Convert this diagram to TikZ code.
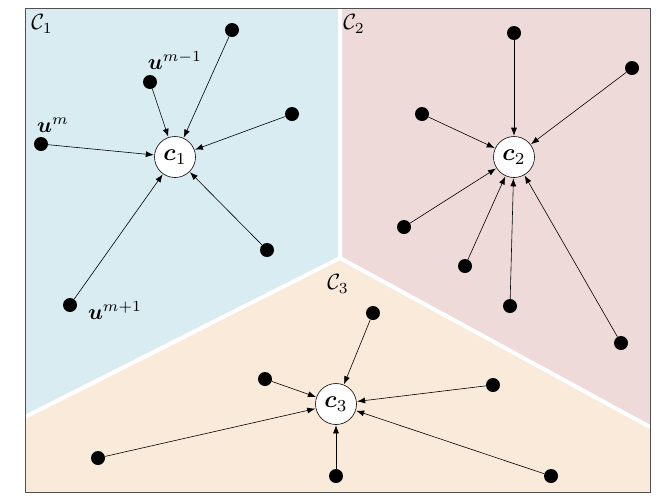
\documentclass[tikz,border=0pt]{standalone}
\usepackage{graphicx}
\usepackage{amsmath,amssymb,bm}
\usetikzlibrary{arrows.meta}
\definecolor{regblue}{RGB}{216,236,242}
\definecolor{regpink}{RGB}{239,218,218}
\definecolor{regpeach}{RGB}{250,234,218}
\definecolor{framegray}{RGB}{80,80,80}
\newcommand{\sclab}[1]{\scalebox{2.2}{$#1$}}
\newcommand{\scctr}[1]{\scalebox{2.4}{$#1$}}
\tikzset{
  pt/.style={circle,fill=black,inner sep=0pt,minimum size=14},
  ctr/.style={circle,draw=black,fill=white,line width=0.6pt,inner sep=0pt,minimum size=41},
  arr/.style={-{Latex[length=8pt,width=6pt]},line width=0.6pt,shorten >=0.5pt},
  sep/.style={draw=white,line width=4pt},
  lab/.style={inner sep=0pt}
}
\begin{document}
\begin{tikzpicture}[x=1pt,y=-1pt]
\useasboundingbox (0,0) rectangle (664,499);
% regions
\fill[regblue] (25,8) -- (340,8) -- (340,258) -- (25,417) -- cycle;
\fill[regpink] (340,8) -- (650,8) -- (650,427) -- (340,258) -- cycle;
\fill[regpeach] (25,417) -- (340,258) -- (650,427) -- (650,492) -- (25,492) -- cycle;
\draw[sep] (340,8) -- (340,258) -- (25,417);
\draw[sep] (340,258) -- (650,427);
\draw[framegray,line width=0.8pt] (25,8) rectangle (650,492);
% region labels
\node[lab] (L1) at (42,24) {\sclab{\mathcal{C}_1}};
\node[lab] (L2) at (354,24) {\sclab{\mathcal{C}_2}};
\node[lab] (L3) at (338,284) {\sclab{\mathcal{C}_3}};
% centers
\node[ctr] (c1) at (175,157) {\scctr{\bm{c}_1}};
\node[ctr] (c2) at (514,157) {\scctr{\bm{c}_2}};
\node[ctr] (c3) at (336,404) {\scctr{\bm{c}_3}};
% cluster 1 points
\node[pt] (a1) at (232,30) {};
\node[pt] (a2) at (150,82) {};
\node[pt] (a3) at (292,114) {};
\node[pt] (a4) at (41,144) {};
\node[pt] (a5) at (267,250) {};
\node[pt] (a6) at (70,305) {};
\node[lab] (ua2) at (175,61) {\sclab{\bm{u}^{m-1}}};
\node[lab] (ua4) at (53,125) {\sclab{\bm{u}^{m}}};
\node[lab] (ua6) at (115,311) {\sclab{\bm{u}^{m+1}}};
\foreach \p in {a1,a2,a3,a4,a5,a6} \draw[arr] (\p) -- (c1);
% cluster 2 points
\node[pt] (b1) at (514,33) {};
\node[pt] (b2) at (632,68) {};
\node[pt] (b3) at (422,114) {};
\node[pt] (b4) at (404,227) {};
\node[pt] (b5) at (465,266) {};
\node[pt] (b6) at (510,306) {};
\node[pt] (b7) at (621,343) {};
\foreach \p in {b1,b2,b3,b4,b5,b6,b7} \draw[arr] (\p) -- (c2);
% cluster 3 points
\node[pt] (d1) at (373,313) {};
\node[pt] (d2) at (265,379) {};
\node[pt] (d3) at (493,385) {};
\node[pt] (d4) at (98,458) {};
\node[pt] (d5) at (336,476) {};
\node[pt] (d6) at (551,476) {};
\foreach \p in {d1,d2,d3,d4,d5,d6} \draw[arr] (\p) -- (c3);
\end{tikzpicture}
\end{document}
